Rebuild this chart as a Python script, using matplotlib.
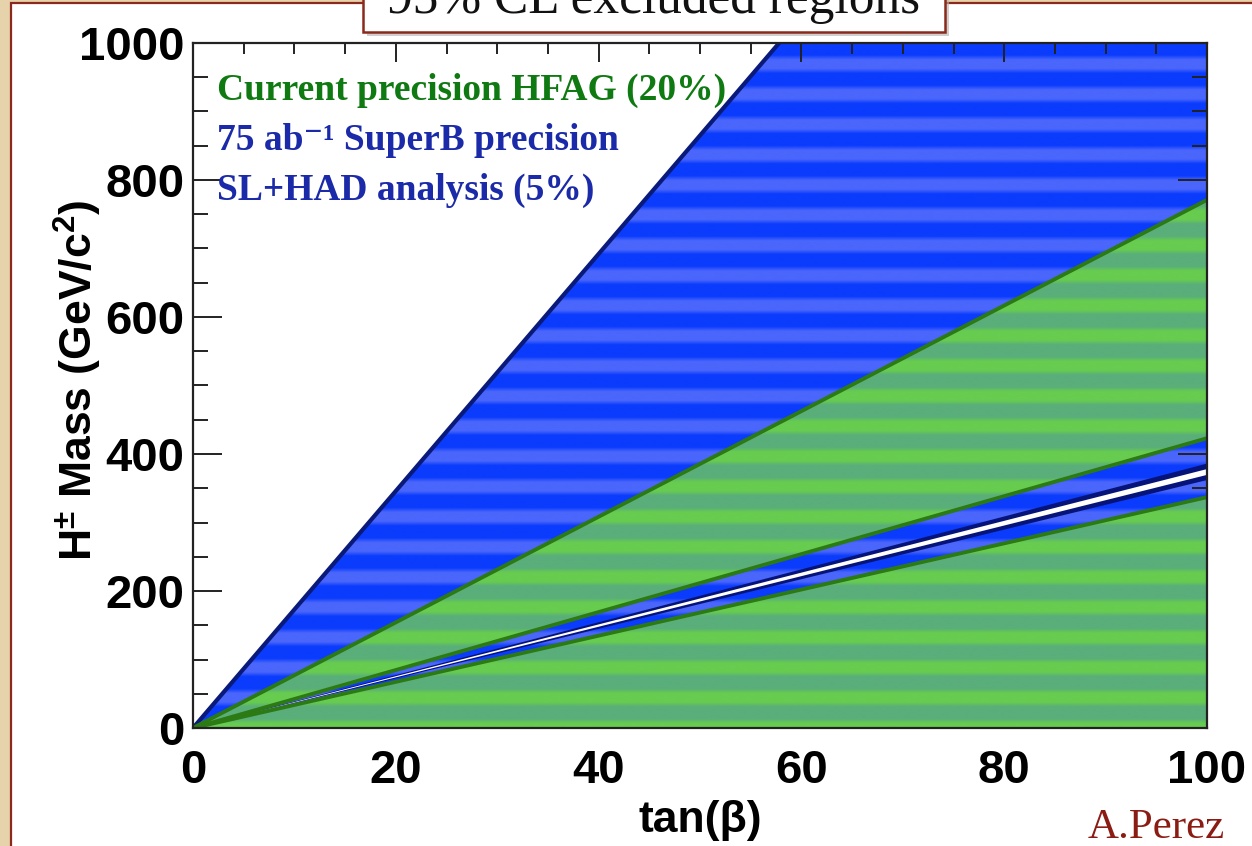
#!/usr/bin/env python3

import numpy as np
import matplotlib.pyplot as plt
from matplotlib.patches import Polygon, Rectangle
from matplotlib.colors import LinearSegmentedColormap
from matplotlib.ticker import MultipleLocator

plt.rcParams['mathtext.fontset'] = 'custom'
plt.rcParams['mathtext.rm'] = 'Liberation Sans:bold'
plt.rcParams['mathtext.bf'] = 'Liberation Sans:bold'

# region edges are straight lines through the origin: m_H = k * tan(beta)
tan_beta = [0, 100]
# m_H (GeV/c^2) of each edge at tan(beta) = 100
superb_top = 1730      # SuperB excluded wedge, upper edge
hfag_top = 771         # HFAG excluded wedge, upper edge
hfag_gap_top = 423     # HFAG allowed gap, upper edge
navy_band = [362, 386]
white_band = [369.5, 378]
hfag_bottom = 337      # HFAG allowed gap, lower edge

legend_lines = ["Current precision HFAG (20%)",
                "75 ab\u207b\u00b9 SuperB precision",
                "SL+HAD analysis (5%)"]
legend_colors = ["#0f7a12", "#1a2aa8", "#1a2aa8"]

W, H = 1252, 846
fig = plt.figure(figsize=(W / 100, H / 100), dpi=100, facecolor="#e6d3ab")

# white slide panel with dark red border
fig.patches.append(Rectangle((11 / W, -0.1), 1.2, 1.1 - 3.5 / H, transform=fig.transFigure,
                             facecolor="white", edgecolor="#8b2a1c", lw=1.6, zorder=-2))

# title box (cut off at the top)
fig.patches.append(Rectangle((367 / W, 1 - 36 / H), 582 / W, 0.1, transform=fig.transFigure,
                             facecolor="#b0b0b0", edgecolor="none", alpha=0.6, zorder=2))
fig.patches.append(Rectangle((363 / W, 1 - 32 / H), 582 / W, 0.1, transform=fig.transFigure,
                             facecolor="white", edgecolor="#8b2a1c", lw=1.8, zorder=3))
fig.text(654 / W, 1 - 13 / H, "95% CL excluded regions", family="Liberation Serif",
         fontsize=37, ha="center", va="baseline", color="#111111", zorder=4)

ax = fig.add_axes([193 / W, 1 - 728 / H, 1014 / W, 685 / H])
ax.set_zorder(1)
ax.set_facecolor("white")

# horizontal banded texture used for the fills
yy = np.linspace(0, 1000, 2000)
band = 0.5 + 0.5 * np.cos(2 * np.pi * yy / 44.0)
band = np.clip((band - 0.35) * 2.2, 0, 1)[::-1].reshape(-1, 1)

blue_cmap = LinearSegmentedColormap.from_list("b", ["#0b3cfd", "#4a66fb"])
green_cmap = LinearSegmentedColormap.from_list("g", ["#5aae7a", "#67cc4f"])


def wedge(k_hi, k_lo):
    x1 = tan_beta[1]
    return [(0, 0), (x1, k_hi), (x1, k_lo)]


def textured(poly_pts, cmap, z):
    patch = Polygon(poly_pts, closed=True, facecolor="none", edgecolor="none",
                    transform=ax.transData)
    ax.add_patch(patch)
    im = ax.imshow(band, cmap=cmap, extent=[0, 100, 0, 1000], aspect="auto",
                   interpolation="bilinear", zorder=z)
    im.set_clip_path(patch)


textured(wedge(superb_top, 0), blue_cmap, 1)
ax.add_patch(Polygon(wedge(navy_band[1], navy_band[0]), facecolor="#06147a",
                     edgecolor="none", zorder=2))
ax.add_patch(Polygon(wedge(white_band[1], white_band[0]), facecolor="white",
                     edgecolor="none", zorder=3))
textured(wedge(hfag_top, hfag_gap_top), green_cmap, 4)
textured(wedge(hfag_bottom, 0), green_cmap, 4)

ax.plot(tan_beta, [0, superb_top], color="#0a1a7a", lw=3.0, zorder=5)
for edge in [hfag_top, hfag_gap_top, hfag_bottom]:
    ax.plot(tan_beta, [0, edge], color="#2c7a14", lw=2.8, zorder=5)

ax.set_xlim(0, 100)
ax.set_ylim(0, 1000)
ax.set_xticks([0, 20, 40, 60, 80, 100])
ax.set_yticks([0, 200, 400, 600, 800, 1000])
ax.xaxis.set_minor_locator(MultipleLocator(5))
ax.yaxis.set_minor_locator(MultipleLocator(50))
ax.tick_params(which="both", direction="in", top=True, right=True, color="#222222", width=1.4)
ax.tick_params(axis="x", which="major", length=13.5, pad=15)
ax.tick_params(axis="x", which="minor", length=8)
ax.tick_params(axis="y", which="major", length=21, pad=6)
ax.tick_params(axis="y", which="minor", length=10.5)
for lab in ax.get_xticklabels() + ax.get_yticklabels():
    lab.set_family("Liberation Sans")
    lab.set_fontweight("bold")
    lab.set_fontsize(34)
for s in ax.spines.values():
    s.set_linewidth(1.6)
    s.set_color("#222222")
    s.set_zorder(6)

ax.set_xlabel("tan(\u03b2)", family="Liberation Sans", fontweight="bold", fontsize=32)
ax.xaxis.set_label_coords(0.5, -0.105)
ax.set_ylabel(r"H$^{\pm}$ Mass (GeV/c$^{2}$)", family="Liberation Sans",
              fontweight="bold", fontsize=32)
ax.yaxis.set_label_coords(-0.088, 0.508)

for i, (txt, col) in enumerate(zip(legend_lines, legend_colors)):
    fig.text(217 / W, 1 - (90 + 50 * i) / H, txt, family=["Liberation Serif", "DejaVu Serif"],
             fontweight="bold", fontsize=27, color=col, ha="left", va="center", zorder=5)

fig.text(1225 / W, 1 - 828 / H, "A.Perez", family="Liberation Serif", fontsize=31,
         color="#8b1c14", ha="right", va="center")

fig.savefig("out.png", dpi=100, facecolor=fig.get_facecolor())
